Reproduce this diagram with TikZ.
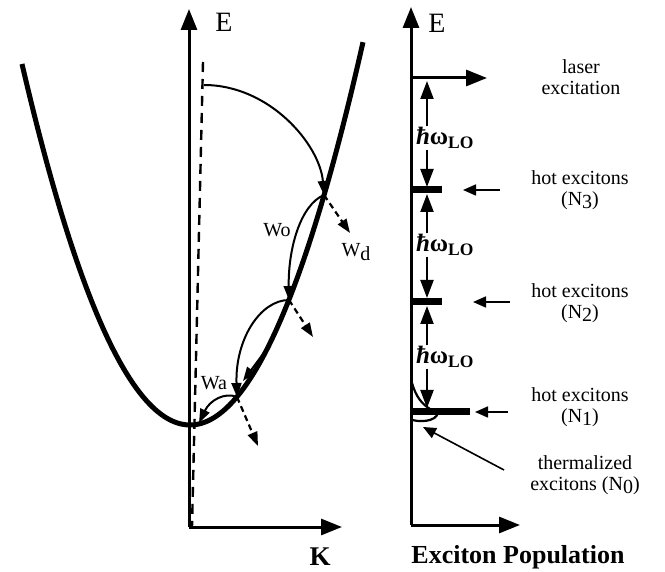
\documentclass[tikz,border=0pt]{standalone}
\usepackage{fontspec}
\setmainfont{Liberation Serif}
\usetikzlibrary{arrows.meta}
\tikzset{
  axis/.style={line width=3pt,-{Triangle[length=21pt,width=16pt]}},
  band/.style={line width=5pt},
  hop/.style={line width=2pt,-{Triangle[length=14pt,width=10pt]}},
  loss/.style={line width=2.2pt,dash pattern=on 6pt off 4pt,-{Triangle[length=14pt,width=10pt]}},
  phon/.style={line width=2.2pt,-{Triangle[length=18pt,width=13pt]}},
  point/.style={line width=1.6pt,-{Triangle[length=13pt,width=11pt]}},
  level/.style={line width=7pt},
  lbl/.style={font=\fontsize{20}{21}\selectfont,align=center,inner sep=1pt},
  hw/.style={font=\bfseries\fontsize{25}{25}\selectfont,inner sep=1pt},
}
\newcommand{\hwlo}{{\itshape ħ}ω\textsubscript{LO}}
\begin{document}
\begin{tikzpicture}[x=1pt,y=-1pt]
        \useasboundingbox (0,0) rectangle (665,572);
        % Dispersion E(K)
        \coordinate (O) at (189,527);
        \draw [axis] (O) -- (189,9);
        \draw [axis] (O) -- (342,527);
        \node [font=\fontsize{28}{28}\selectfont] (E1) at (224,22) {E};
        \node [font=\bfseries\fontsize{27}{27}\selectfont] (K) at (320,557) {K};
        \draw [line width=2.4pt, dash pattern=on 10pt off 7pt] (203,62) -- (192,527);
        \draw [band, domain=-168:173, samples=80, smooth] plot ({190+\x}, {425-(0.1131*\x)^2});
        % Relaxation steps
        \coordinate (S) at (204,85);
        \coordinate (P1) at (324,195);
        \coordinate (P2) at (289,300);
        \coordinate (P3) at (237,397);
        \coordinate (V) at (199,423);
        \draw [hop] (S) .. controls (270,85) and (320,145) .. (P1);
        \draw [hop] (P1) .. controls (300,205) and (288,250) .. (P2);
        \draw [hop] (P2) .. controls (260,300) and (235,340) .. (P3);
        \draw [hop] (P3) .. controls (225,392) and (210,400) .. (V);
        \coordinate (A1) at (266,350);
        \coordinate (A2) at (243,381);
        \draw [hop] (A1) -- (A2);
        % Losses
        \coordinate (D1) at (350,233);
        \coordinate (D2) at (313,337);
        \coordinate (D3) at (258,446);
        \draw [loss] (P1) -- (D1);
        \draw [loss] (P2) -- (D2);
        \draw [loss] (P3) -- (D3);
        \node [lbl] (Wo) at (277,230) {Wo};
        \node [lbl] (Wd) at (356,252) {W\raisebox{-4pt}{d}};
        \node [lbl] (Wa) at (214,383) {Wa};
        % Exciton population
        \coordinate (O2) at (411,525);
        \draw [axis] (O2) -- (411,7);
        \draw [axis] (O2) -- (520,525);
        \node [font=\fontsize{28}{28}\selectfont] (E2) at (437,23) {E};
        \node [font=\bfseries\fontsize{26}{26}\selectfont] (pop) at (518,557) {Exciton Population};
        % Levels
        \coordinate (L0) at (411,78);
        \coordinate (L3) at (411,190);
        \coordinate (L2) at (411,302);
        \coordinate (L1) at (411,412);
        \draw [axis] (L0) -- (487,78);
        \draw [level] (L3) -- (442,190);
        \draw [level] (L2) -- (442,302);
        \draw [level] (L1) -- (470,412);
        \node [lbl] (laser) at (581,77) {laser\\excitation};
        \node [lbl] (n3) at (580,190) {hot excitons\\(N\raisebox{-3pt}{3})};
        \node [lbl] (n2) at (580,303) {hot excitons\\(N\raisebox{-3pt}{2})};
        \node [lbl] (n1) at (580,407) {hot excitons\\(N\raisebox{-3pt}{1})};
        \node [lbl] (n0) at (585,475) {thermalized\\excitons (N\raisebox{-3pt}{0})};
        \coordinate (T3) at (500,190);
        \coordinate (T2) at (510,302);
        \coordinate (T1) at (508,412);
        \coordinate (T0) at (504,470);
        \draw [point] (T3) -- (463,190);
        \draw [point] (T2) -- (473,302);
        \draw [point] (T1) -- (475,412);
        \draw [point] (T0) -- (423,427);
        % LO phonon steps
        \coordinate (ax) at (427,0);
        \node [hw] (lo1) at (445,138) {\hwlo};
        \node [hw] (lo2) at (445,245) {\hwlo};
        \node [hw] (lo3) at (445,357) {\hwlo};
        \draw [phon] (lo1.north -| ax) -- (427,81);
        \draw [phon] (lo1.south -| ax) -- (427,187);
        \draw [phon] (lo2.north -| ax) -- (427,194);
        \draw [phon] (lo2.south -| ax) -- (427,298);
        \draw [phon] (lo3.north -| ax) -- (427,306);
        \draw [phon] (lo3.south -| ax) -- (427,408);
        % Thermal distribution
        \draw [line width=2.2pt] (412,383) .. controls (416,397) and (422,404) .. (430,409);
        \draw [line width=2.2pt] (412,420) .. controls (425,423) and (440,420) .. (438,409);
    \end{tikzpicture}
\end{document}
